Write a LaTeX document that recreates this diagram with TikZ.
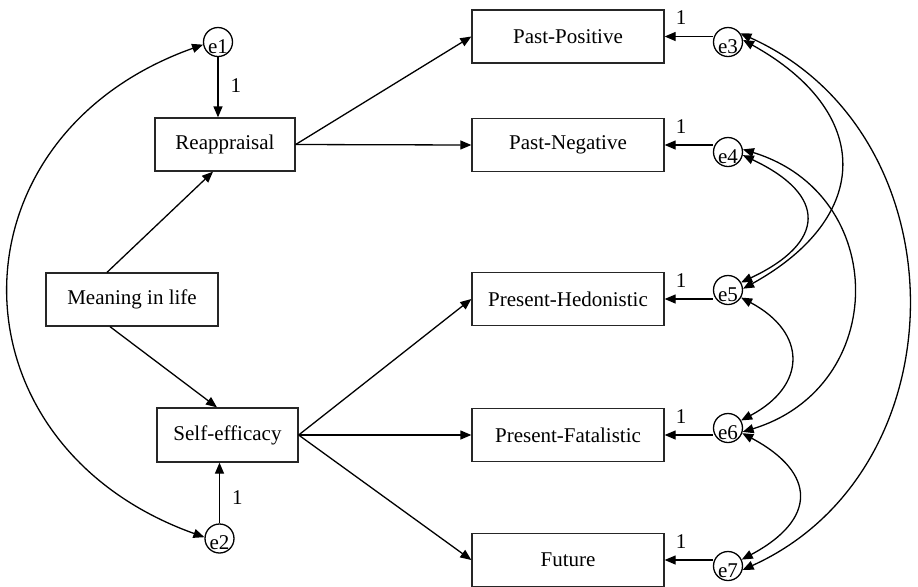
\documentclass[tikz,border=0pt]{standalone}
\usepackage{fontspec}
\setmainfont{Liberation Serif}
\usetikzlibrary{
    arrows.meta
}

\begin{document}
\begin{tikzpicture}[
    x=0.5pt,
    y=-0.5pt,
    font=\fontsize{10.5}{12.6}\selectfont,
    box/.style={
        rectangle,
        draw=black!85,
        line width=0.65pt,
        inner sep=0pt,
        minimum width=96pt,
        minimum height=26.5pt,
        fill=white
    },
    err/.style={
        circle,
        draw=black,
        line width=0.65pt,
        inner sep=-0.3pt,
        minimum size=14.5pt,
        text height=11pt,
        text depth=0pt,
        fill=white
    },
    arrow/.style={
        -{Triangle[length=5.5pt,width=4.5pt]},
        line width=0.65pt
    },
    cov/.style={
        {Triangle[length=5.5pt,width=4.5pt]}-{Triangle[length=5.5pt,width=4.5pt]},
        line width=0.65pt
    },
    one/.style={
        inner sep=1pt
    }
]
\useasboundingbox (0,0) rectangle (918,586);

% =========================================================
% Left: predictor and mediators
% =========================================================
\node[box, minimum width=86pt] (meaning) at (132,299.5)
{Meaning in life};

\node[box, minimum width=70pt] (reappraisal) at (225,144.5)
{Reappraisal};

\node[box, minimum width=70.5pt, minimum height=27pt] (efficacy) at (227.5,435)
{Self-efficacy};

\node[err] (e1) at (218,42) {e1};
\node[err] (e2) at (219.5,538.5) {e2};

% =========================================================
% Right: time perspective outcomes
% =========================================================
\node[box] (pastpos) at (568,36.5) {Past-Positive};
\node[box] (pastneg) at (568,145) {Past-Negative};
\node[box] (preshed) at (568,299) {Present-Hedonistic};
\node[box] (presfat) at (568,435) {Present-Fatalistic};
\node[box] (future) at (568,560) {Future};

\node[err] (e3) at (728,42) {e3};
\node[err] (e4) at (728,152) {e4};
\node[err] (e5) at (728,290) {e5};
\node[err] (e6) at (728,428) {e6};
\node[err] (e7) at (728,566) {e7};

% =========================================================
% Paths
% =========================================================
\draw[arrow] ([xshift=-12.5pt]meaning.north) -- ([xshift=-6pt]reappraisal.south);
\draw[arrow] ([xshift=-11pt]meaning.south) -- ([xshift=-5.25pt]efficacy.north);

\draw[arrow] (reappraisal.east) -- (pastpos.west);
\draw[arrow] (reappraisal.east) -- (pastneg.west);

\draw[arrow] (efficacy.east) -- (preshed.west);
\draw[arrow] (efficacy.east) -- (presfat.west);
\draw[arrow] (efficacy.east) -- (future.west);

% =========================================================
% Error terms
% =========================================================
\draw[arrow] (e1.south) -- node[pos=0.47, right=5pt, one] {1} (e1.south |- reappraisal.north);
\draw[arrow] (e2.north) -- node[pos=0.42, right=5pt, one] {1} (e2.north |- efficacy.south);

\draw[arrow] (pastpos.east -| e3.west) -- node[pos=0.66, above=4.5pt, one] {1} (pastpos.east);
\draw[arrow] (pastneg.east -| e4.west) -- node[pos=0.66, above=4.5pt, one] {1} (pastneg.east);
\draw[arrow] (preshed.east -| e5.west) -- node[pos=0.66, above=4.5pt, one] {1} (preshed.east);
\draw[arrow] (presfat.east -| e6.west) -- node[pos=0.66, above=4.5pt, one] {1} (presfat.east);
\draw[arrow] (future.east -| e7.west) -- node[pos=0.66, above=4.5pt, one] {1} (future.east);

% =========================================================
% Covariances
% =========================================================
\draw[cov] (e1.190) .. controls +(-259,92) and +(-260,-93) .. (e2.175);

\draw[cov] (e3.35) .. controls +(223,100) and +(221,-100) .. (e7.-15);
\draw[cov] (e3.8) .. controls +(130,72) and +(130,-72) .. (e5.5);
\draw[cov] (e4.-12) .. controls +(85,40) and +(85,-40) .. (e5.30);
\draw[cov] (e4.10) .. controls +(147,45) and +(147,-45) .. (e6.-15);
\draw[cov] (e5.-30) .. controls +(66,35) and +(66,-35) .. (e6.30);
\draw[cov] (e6.-20) .. controls +(75,40) and +(75,-40) .. (e7.25);

\end{tikzpicture}
\end{document}
